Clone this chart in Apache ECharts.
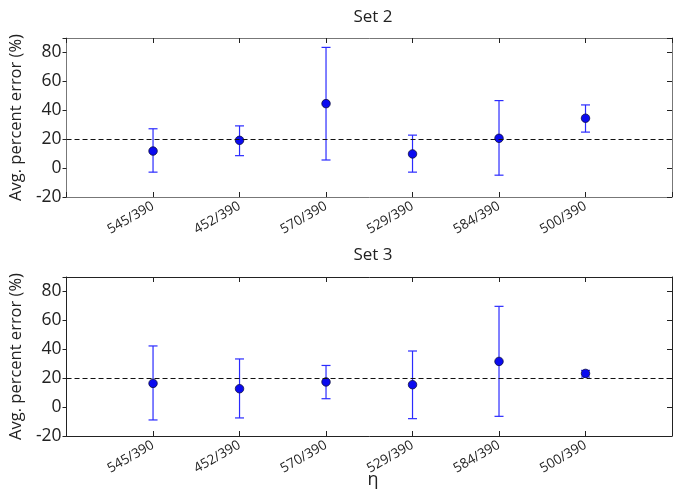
<!DOCTYPE html>
<html>
<head>
<meta charset="utf-8">
<script src="https://cdn.jsdelivr.net/npm/echarts@6/dist/echarts.min.js"></script>
<style>
html,body{margin:0;padding:0;background:#fff;}
#c{width:678px;height:493px;}
</style>
</head>
<body>
<div id="c"></div>
<script>
const categories = ['545/390','452/390','570/390','529/390','584/390','500/390'];
const yTicks = [-20, 0, 20, 40, 60, 80];
const referenceValue = 20;

const set2Mean = [11.8, 19.2, 44.6, 9.8, 20.6, 34.5];
const set2Low  = [-2.8, 8.6, 5.6, -2.8, -4.9, 24.9];
const set2High = [27.2, 29.2, 83.5, 22.8, 46.7, 43.7];

const set3Mean = [16.4, 12.7, 17.4, 15.5, 31.6, 23.3];
const set3Low  = [-8.9, -7.5, 5.8, -8.0, -6.4, 20.8];
const set3High = [42.3, 33.3, 28.8, 38.8, 69.7, 25.4];

const FONT = '"Open Sans", "Noto Sans", sans-serif';
const BAR = '#2b2bff';

const chart = echarts.init(document.getElementById('c'), null, {renderer: 'canvas'});

function errRender(params, api) {
  const x = api.value(0), lo = api.value(1), hi = api.value(2);
  const a = api.coord([x, lo]), b = api.coord([x, hi]);
  const w = 4.5;
  const st = {stroke: BAR, lineWidth: 1.2};
  return {type: 'group', children: [
    {type: 'line', shape: {x1: a[0], y1: a[1], x2: b[0], y2: b[1]}, style: st},
    {type: 'line', shape: {x1: a[0]-w, y1: a[1], x2: a[0]+w, y2: a[1]}, style: st},
    {type: 'line', shape: {x1: b[0]-w, y1: b[1], x2: b[0]+w, y2: b[1]}, style: st}
  ]};
}

const grids = [
  {left: 65, top: 38, width: 607, height: 159},
  {left: 65, top: 277, width: 607, height: 159}
];
const axisColors = ['#777', '#222'];

const xAxes = [], yAxes = [], series = [];
const sets = [[set2Mean, set2Low, set2High], [set3Mean, set3Low, set3High]];

for (let g = 0; g < 2; g++) {
  const ac = axisColors[g];
  xAxes.push({
    type: 'value', gridIndex: g, min: 0, max: 7, interval: 1, position: 'bottom',
    axisLine: {show: true, onZero: false, lineStyle: {color: ac, width: 1}},
    axisTick: {show: true, inside: true, length: 5, lineStyle: {color: '#222'}},
    splitLine: {show: false},
    axisLabel: {
      rotate: 30, fontFamily: FONT, fontSize: 13.5, color: '#222', margin: 8,
      formatter: v => (v >= 1 && v <= categories.length) ? categories[v - 1] : ''
    }
  });
  xAxes.push({
    type: 'value', gridIndex: g, min: 0, max: 7, interval: 1, position: 'top',
    axisLine: {show: true, onZero: false, lineStyle: {color: ac, width: 1}},
    axisTick: {show: true, inside: true, length: 5, lineStyle: {color: '#222'}},
    splitLine: {show: false}, axisLabel: {show: false}
  });
  yAxes.push({
    type: 'value', gridIndex: g, min: -20, max: 90, interval: 20, position: 'left',
    name: 'Avg. percent error (%)', nameLocation: 'middle', nameGap: 34,
    nameTextStyle: {fontFamily: FONT, fontSize: 16.5, color: '#222'},
    axisLine: {show: true, onZero: false, lineStyle: {color: ac, width: 1}},
    axisTick: {show: true, inside: false, length: 4, lineStyle: {color: '#222'}},
    splitLine: {show: false},
    axisLabel: {
      fontFamily: FONT, fontSize: 17.5, color: '#222', margin: 5,
      formatter: v => yTicks.includes(v) ? String(v) : ''
    }
  });
  yAxes.push({
    type: 'value', gridIndex: g, min: -20, max: 90, interval: 20, position: 'right',
    axisLine: {show: true, onZero: false, lineStyle: {color: ac, width: 1}},
    axisTick: {show: true, inside: true, length: 5, lineStyle: {color: '#222'}},
    splitLine: {show: false}, axisLabel: {show: false}
  });

  const [m, lo, hi] = sets[g];
  series.push({
    type: 'custom', xAxisIndex: g * 2, yAxisIndex: g * 2,
    renderItem: errRender,
    data: categories.map((c, i) => [i + 1, lo[i], hi[i]]),
    z: 2, silent: true
  });
  series.push({
    type: 'scatter', xAxisIndex: g * 2, yAxisIndex: g * 2,
    symbol: 'circle', symbolSize: 8.5,
    itemStyle: {color: '#0a0af0', borderColor: '#101040', borderWidth: 0.8, opacity: 1},
    data: m.map((v, i) => [i + 1, v]),
    z: 3, silent: true,
    markLine: {
      silent: true, symbol: ['none', 'none'], label: {show: false},
      lineStyle: {color: '#111', type: [5, 3], width: 1},
      data: [{yAxis: referenceValue}], animation: false
    }
  });
}

chart.setOption({
  animation: false,
  backgroundColor: '#fff',
  title: [
    {text: 'Set 2', left: 368, top: 4, textAlign: 'center',
     textStyle: {fontFamily: FONT, fontSize: 17, fontWeight: 'normal', color: '#222'}},
    {text: 'Set 3', left: 368, top: 242, textAlign: 'center',
     textStyle: {fontFamily: FONT, fontSize: 17, fontWeight: 'normal', color: '#222'}},
    {text: 'η', left: 368, top: 466, textAlign: 'center',
     textStyle: {fontFamily: FONT, fontSize: 18, fontWeight: 'normal', color: '#222'}}
  ],
  grid: grids,
  xAxis: xAxes,
  yAxis: yAxes,
  series: series
});
</script>
</body>
</html>
